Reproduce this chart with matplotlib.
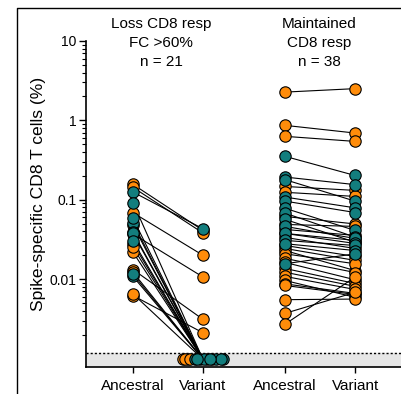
import numpy as np
import matplotlib
matplotlib.use("Agg")
import matplotlib.pyplot as plt
from matplotlib.lines import Line2D
from matplotlib.ticker import FixedLocator, NullFormatter
import matplotlib.transforms as mtransforms

plt.rcParams['font.family'] = ['Liberation Sans', 'DejaVu Sans']

# --- data ---
categories = ["Ancestral", "Variant", "Ancestral", "Variant"]
group_titles = ["Loss CD8 resp\nFC >60%\nn = 21", "Maintained\nCD8 resp\nn = 38"]

# left group: loss of response; None = below detection
loss_anc = [0.156, 0.143, 0.0686, 0.037, 0.0132, 0.0062, 0.0279, 0.0218, 0.0122,
            0.0065, 0.048, 0.025,
            0.125, 0.0917, 0.0513, 0.039, 0.0376, 0.0108, 0.058, 0.030, 0.0115]
loss_var = [0.041, 0.038, 0.0199, 0.0106, 0.0031, 0.0021, None, None, None,
            None, None, None,
            0.043, None, None, None, None, None, None, None, None]
loss_grp = ["O"] * 12 + ["T"] * 9

# right group: maintained response
keep_anc = [2.27, 0.865, 0.629, 0.147, 0.124, 0.0615, 0.0488, 0.0422, 0.0376, 0.0335,
            0.0265, 0.0243, 0.0229, 0.0208, 0.0182, 0.0162, 0.0136, 0.0122, 0.0108,
            0.0096, 0.0087, 0.0083, 0.0055, 0.0037, 0.0027,
            0.352, 0.193, 0.179, 0.108, 0.096, 0.078, 0.0678, 0.0565, 0.0461, 0.0376,
            0.0307, 0.0279, 0.0156]
keep_var = [2.51, 0.692, 0.543, 0.131, 0.110, 0.0495, 0.0461, 0.0355, 0.0307, 0.0243,
            0.0193, 0.0172, 0.0128, 0.0156, 0.0121, 0.0098, 0.0088, 0.0081, 0.0074,
            0.0059, 0.0066, 0.0064, 0.0056, 0.0068, 0.0106,
            0.202, 0.155, 0.096, 0.079, 0.069, 0.041, 0.0338, 0.0292, 0.0325, 0.0281,
            0.0265, 0.0229, 0.0208]
keep_grp = ["O"] * 25 + ["T"] * 13

lod_line = 0.00116
nd_value = 0.00097

# --- style ---
colors = {"O": "#ff8c0a", "T": "#137e7e"}
xpos = [1, 2, 3.17, 4.17]
# horizontal spread of the undetected points (one per None in loss_var)
nd_jitter = [-0.29, -0.22, -0.26, 0.13, 0.06, -0.18,
             -0.12, -0.05, 0.02, 0.19, 0.29, -0.09, 0.25, 0.10]

fig = plt.figure(figsize=(4.02, 3.94), dpi=100)
ax = fig.add_axes([86 / 402, 27 / 394, 1 - 86 / 402, 326 / 394])
ax.set_yscale("log")
ax.set_ylim(0.00078, 10)
ax.set_xlim(0.329, 4.84)

ax.axhspan(0.00078, lod_line, color="#e6e6e6", zorder=0)
ax.axhline(lod_line, color="black", ls=(0, (1.5, 1.5)), lw=1, zorder=1)

mk = dict(marker="o", ms=8.2, mec="black", mew=0.8, ls="none")

# left group
x0, x1 = xpos[0], xpos[1]
j = 0
pts = []
for a, v, g in zip(loss_anc, loss_var, loss_grp):
    if v is None:
        ax.plot([x0, x1], [a, nd_value], color="black", lw=0.8, zorder=2)
        pts.append((x1 + nd_jitter[j], nd_value, g))
        j += 1
    else:
        ax.plot([x0, x1], [a, v], color="black", lw=0.8, zorder=2)
        pts.append((x1, v, g))
    pts.append((x0, a, g))

# right group
x2, x3 = xpos[2], xpos[3]
for a, v, g in zip(keep_anc, keep_var, keep_grp):
    ax.plot([x2, x3], [a, v], color="black", lw=0.8, zorder=2)
    pts.append((x2, a, g))
    pts.append((x3, v, g))

for g, z in (("O", 3), ("T", 4)):
    xs = [p[0] for p in pts if p[2] == g]
    ys = [p[1] for p in pts if p[2] == g]
    ax.plot(xs, ys, mfc=colors[g], zorder=z, **mk)

# axes styling
for s in ("top", "right"):
    ax.spines[s].set_visible(False)
ax.spines["left"].set_linewidth(1.2)
ax.spines["bottom"].set_linewidth(1.2)

ax.set_yticks([0.01, 0.1, 1, 10])
ax.set_yticklabels(["0.01", "0.1", "1", "10"])
minors = [m * 10.0 ** e for e in (-3, -2, -1, 0) for m in range(2, 10)]
minors = [m for m in minors if m >= 0.0019]
ax.yaxis.set_minor_locator(FixedLocator(minors))
ax.yaxis.set_minor_formatter(NullFormatter())
ax.tick_params(axis="y", which="major", length=5, width=1, pad=2, labelsize=10)
ax.tick_params(axis="y", which="minor", length=3, width=0.8)

ax.set_xticks(xpos)
ax.set_xticklabels(categories)
ax.tick_params(axis="x", length=4, width=1, pad=5, labelsize=11)

ax.set_ylabel("Spike-specific CD8 T cells (%)", fontsize=12.6)
ax.yaxis.set_label_coords(-0.128, 0.53)

trans = mtransforms.blended_transform_factory(ax.transData, ax.transAxes)
ax.text(1.4, 0.994, group_titles[0], transform=trans, ha="center", va="center",
        fontsize=11, linespacing=1.45, clip_on=False)
ax.text(3.66, 0.994, group_titles[1], transform=trans, ha="center", va="center",
        fontsize=11, linespacing=1.45, clip_on=False)

# frame line around the panel (top and left)
fig.add_artist(Line2D([17 / 402, 17 / 402, 1.0], [0.0, 1 - 8 / 394, 1 - 8 / 394],
                      transform=fig.transFigure, color="black", lw=1))

fig.savefig("out.png", dpi=100)
